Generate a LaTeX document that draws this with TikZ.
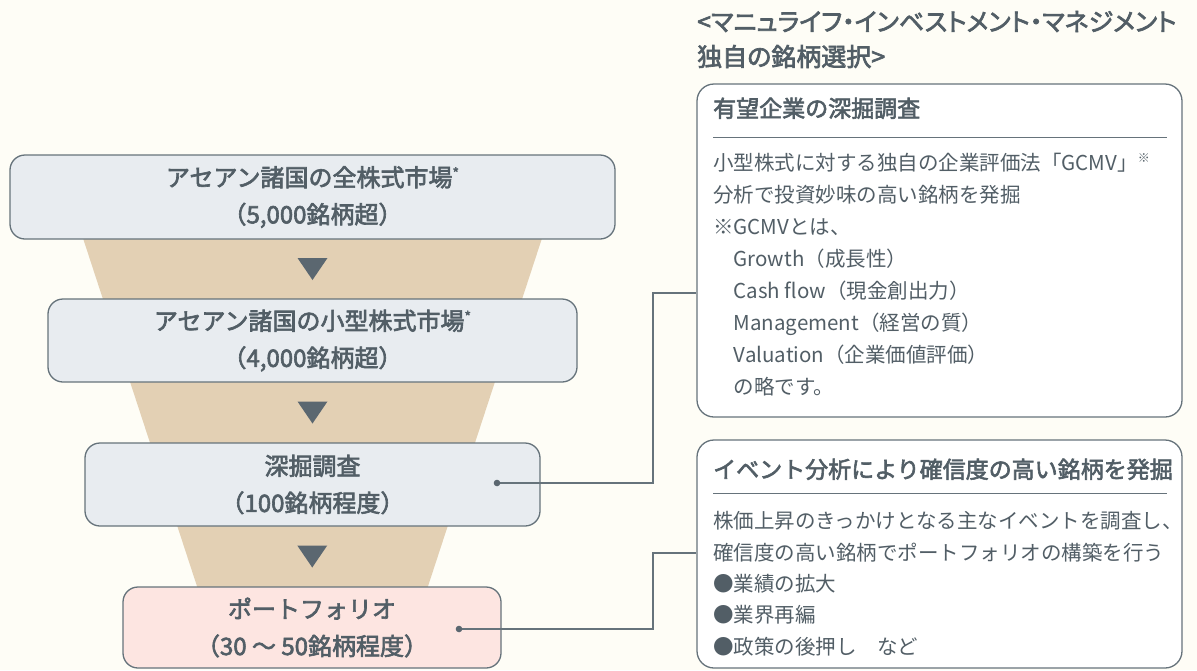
\documentclass[tikz,border=0pt]{standalone}
\usepackage{fontspec}
\setmainfont{Noto Sans CJK JP}
\newfontfamily\medfont[FakeBold=2.6]{Noto Sans CJK JP}
\newfontfamily\medpfont[FakeBold=2.6,RawFeature=+palt]{Noto Sans CJK JP}
\usetikzlibrary{calc}
\definecolor{bgc}{HTML}{FEFDF6}
\definecolor{tanc}{HTML}{E3D0B4}
\definecolor{boxc}{HTML}{E8ECF0}
\definecolor{pinkc}{HTML}{FDE5E1}
\definecolor{linec}{HTML}{66737B}
\definecolor{textc}{HTML}{525E66}
\definecolor{tric}{HTML}{5B6770}
\tikzset{
  fbox/.style={draw=linec, line width=1.3pt, fill=boxc, rounded corners=15pt,
    align=center, text=textc, font=\medfont\fontsize{24}{37}\selectfont, inner sep=0pt},
  infobox/.style={draw=linec, line width=1.3pt, fill=white, rounded corners=17pt, inner sep=0pt},
  conn/.style={draw=linec, line width=1.3pt},
  ttl/.style={anchor=base west, inner sep=0pt, text=textc, font=\medfont\fontsize{23}{23}\selectfont},
  body/.style={anchor=base west, inner sep=0pt, text=textc, font=\fontsize{20.5}{20.5}\selectfont},
  hdr/.style={anchor=base west, inner sep=0pt, text=textc, font=\medpfont\fontsize{25}{25}\selectfont},
}
\newcommand{\astmark}{{\fontsize{14}{14}\selectfont\raisebox{8pt}{*}}}
\newcommand{\komemark}{{\fontsize{12}{12}\selectfont\raisebox{8pt}{※}}}
\begin{document}
\begin{tikzpicture}[x=1pt,y=-1pt]
\useasboundingbox (0,0) rectangle (1197,670);
\fill[bgc] (0,0) rectangle (1197,670);
% funnel
\fill[tanc] (62.3,175) -- (562.7,175) -- (423.5,600) -- (201.5,600) -- cycle;
% funnel boxes
\node[fbox, minimum width=605, minimum height=84] (b1) at (312.5,197) {アセアン諸国の全株式市場\astmark\\（5,000銘柄超）};
\node[fbox, minimum width=529, minimum height=83] (b2) at (312.5,340.5) {アセアン諸国の小型株式市場\astmark\\（4,000銘柄超）};
\node[fbox, minimum width=455, minimum height=83] (b3) at (312.5,484.5) {深掘調査\\（100銘柄程度）};
\node[fbox, fill=pinkc, minimum width=378, minimum height=81] (b4) at (312,627.5) {ポートフォリオ\\（30 ～ 50銘柄程度）};
% triangles
\foreach \u/\l in {b1/b2,b2/b3,b3/b4}{
  \fill[tric] ($(\u.south)!0.5!(\l.north)$) ++(-15,-11) -- ++(30,0) -- ++(-15,22) -- cycle;
}
% header
\node[hdr] (h1) at (697,31) {<マニュライフ・インベストメント・マネジメント};
\node[hdr] (h2) at (697,66) {独自の銘柄選択>};
% info box A
\node[infobox, minimum width=485, minimum height=333] (boxA) at (939.5,250.5) {};
\node[ttl] (tA) at (713,117) {有望企業の深掘調査};
\draw[linec, line width=0.9pt] (713,137) -- (1167,137);
\foreach \i/\t in {0/{小型株式に対する独自の企業評価法「GCMV」\komemark},
                   1/{分析で投資妙味の高い銘柄を発掘},
                   2/{※GCMVとは、},
                   3/{　Growth（成長性）},
                   4/{　Cash flow（現金創出力）},
                   5/{　Management（経営の質）},
                   6/{　Valuation（企業価値評価）},
                   7/{　の略です。}}{
  \node[body] (la\i) at (713,170.8+32*\i) {\t};
}
% info box B
\node[infobox, minimum width=485, minimum height=228] (boxB) at (939.5,554) {};
\node[ttl] (tB) at (713,478) {イベント分析により確信度の高い銘柄を発掘};
\draw[linec, line width=0.9pt] (713,493) -- (1167,493);
\foreach \i/\t in {0/{株価上昇のきっかけとなる主なイベントを調査し、},
                   1/{確信度の高い銘柄でポートフォリオの構築を行う},
                   2/{●業績の拡大},
                   3/{●業界再編},
                   4/{●政策の後押し　など}}{
  \node[body] (lb\i) at (713,528.8+31.3*\i) {\t};
}
% connectors
\coordinate (d3) at (497,483);
\coordinate (d4) at (459,629);
\coordinate (a1) at (boxA.west |- 0,293);
\coordinate (a2) at (boxB.west |- 0,553);
\draw[conn] (d3) -| (653,293) -- (a1);
\draw[conn] (d4) -| (653,553) -- (a2);
\fill[tric] (d3) circle (3.3pt);
\fill[tric] (d4) circle (3.3pt);
\end{tikzpicture}
\end{document}
